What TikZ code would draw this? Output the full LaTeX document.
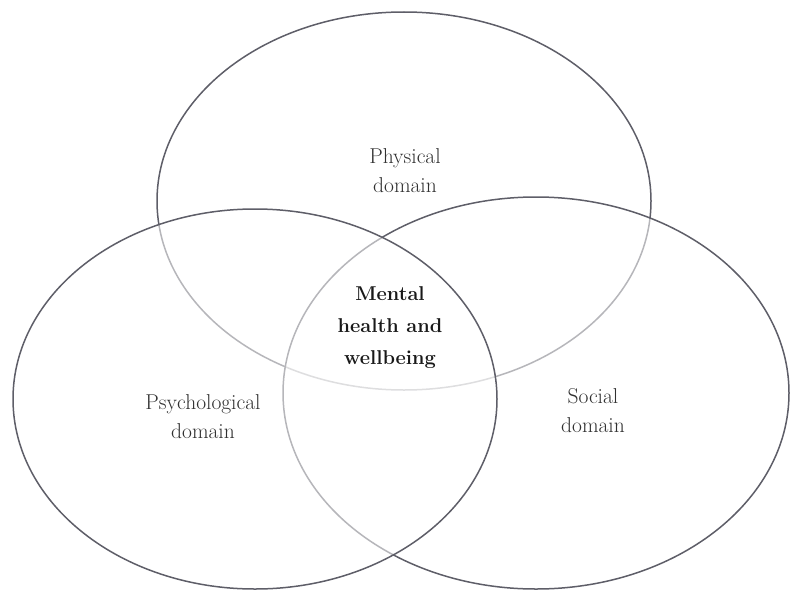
\documentclass[tikz,border=0pt]{standalone}
\usepackage{fontspec}
\usepackage{xcolor}
\usepackage{tikz}
\usetikzlibrary{positioning}

\definecolor{rimgray}{HTML}{5E5E68}
\definecolor{inkgray}{HTML}{303030}

\begin{document}
\begin{tikzpicture}[
    x=1pt, y=-1pt,
    ring/.style={draw=rimgray, line width=1.5pt},
    veil/.style={ring, fill=white, fill opacity=0.55},
    label text/.style={align=center, text=inkgray, inner sep=0pt,
        font=\fontsize{21.5}{29}\selectfont\addfontfeatures{LetterSpace=16}},
    core text/.style={label text, text=black!90,
        font=\fontsize{20}{32}\selectfont\bfseries\addfontfeatures{LetterSpace=9}}
]
\useasboundingbox (0,0) rectangle (792,594);

% the three domains, drawn top, right, left
\draw[ring] (404,201) ellipse [x radius=247pt, y radius=189pt];
\draw[veil] (536,393) ellipse [x radius=253pt, y radius=196pt];
\draw[veil] (255,399) ellipse [x radius=242pt, y radius=190pt];

\node[label text] (phys) at (405,171) {Physical\\domain};
\node[label text] (psych) at (203,417) {Psychological\\domain};
\node[label text] (soc) at (593,411) {Social\\domain};
\node[core text] (mhw) at (390,328) {Mental\\health and\\wellbeing};
\end{tikzpicture}
\end{document}
